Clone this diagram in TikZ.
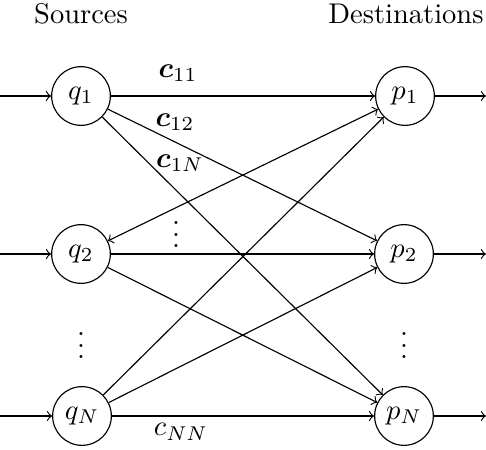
\documentclass[tikz,border=0pt]{standalone}
\usepackage{amsmath}
\usepackage{amsbsy}
\usetikzlibrary{arrows}
\begin{document}
\begin{tikzpicture}[x=0.351pt,y=-0.351pt,
  nd/.style={circle,draw,line width=0.4pt,inner sep=0pt,minimum size=20.6pt},
  ar/.style={->,line width=0.4pt},
  dt/.style={inner sep=0pt},
  ln/.style={line width=0.4pt}]
\useasboundingbox (0,0) rectangle (486,450);
\node (src) at (81,14) {Sources};
\node (dst) at (406,14) {Destinations};
\node[nd] (q1) at (81,96) {$q_1$};
\node[nd] (q2) at (81,254) {$q_2$};
\node[nd] (qN) at (82,416) {$q_N$};
\node[nd] (p1) at (405,96) {$p_1$};
\node[nd] (p2) at (404,254) {$p_2$};
\node[nd] (pN) at (404,416) {$p_N$};
\coordinate (i1) at (0,96);
\coordinate (i2) at (0,254);
\coordinate (iN) at (0,416);
\coordinate (o1) at (486,96);
\coordinate (o2) at (486,254);
\coordinate (oN) at (486,416);
\draw[ar] (i1) -- (q1);
\draw[ar] (i2) -- (q2);
\draw[ar] (iN) -- (qN);
\draw[ar] (p1) -- (o1);
\draw[ar] (p2) -- (o2);
\draw[ar] (pN) -- (oN);
\draw[ar] (q1) -- (p1);
\draw[ar] (q1) -- (p2);
\draw[ar] (q1) -- (pN);
\draw[<->,line width=0.4pt] (q2) -- (p1);
\draw[ar] (q2) -- (p2);
\draw[ar] (q2) -- (pN);
\draw[ar] (qN) -- (p1);
\draw[ar] (qN) -- (p2);
\draw[ar] (qN) -- (pN);
\node (c11) at (178,73) {$\boldsymbol{c}_{11}$};
\node (c12) at (175,122) {$\boldsymbol{c}_{12}$};
\node (c1N) at (180,163) {$\boldsymbol{c}_{1N}$};
\node (cNN) at (181,432) {$c_{NN}$};
\node[dt] (d1) at (176,226) {$\vdots$};
\node[dt] (d2) at (81,337) {$\vdots$};
\node[dt] (d3) at (404,337) {$\vdots$};
\end{tikzpicture}
\end{document}
